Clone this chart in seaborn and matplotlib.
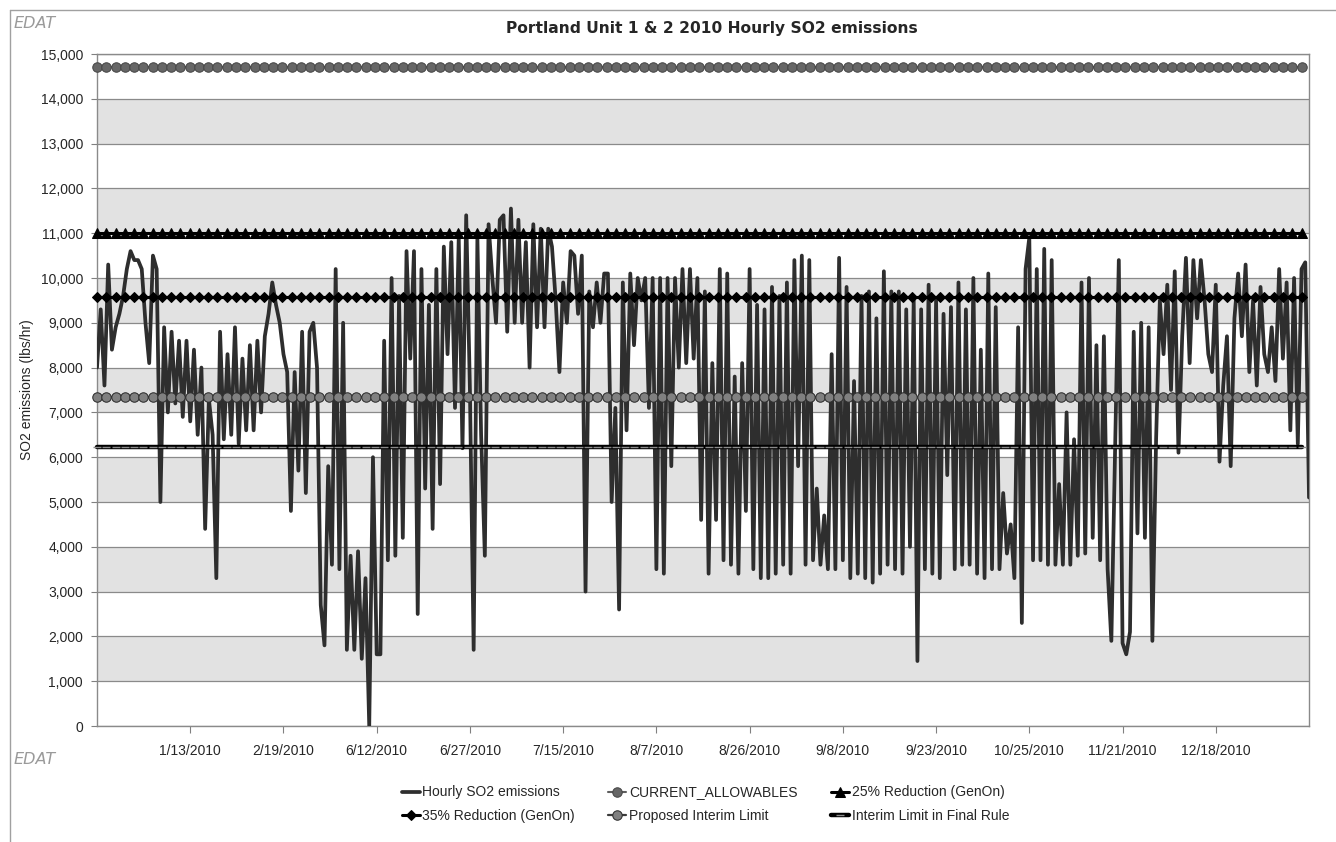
import matplotlib
matplotlib.use("Agg")
import matplotlib.pyplot as plt
import numpy as np
import pandas as pd
import seaborn as sns
from matplotlib.lines import Line2D
from matplotlib.ticker import FuncFormatter

# hourly SO2 (thousand lbs/hr), one value per category step
hourly_so2_k = [
    8.0, 9.3, 7.6, 10.3, 8.4, 8.9, 9.2, 9.6, 10.2, 10.6,
    10.4, 10.4, 10.2, 9.0, 8.1, 10.5, 10.2, 5.0, 8.9, 7.0,
    8.8, 7.2, 8.6, 6.9, 8.6, 6.8, 8.4, 6.5, 8.0, 4.4,
    7.3, 6.5, 3.3, 8.8, 6.4, 8.3, 6.5, 8.9, 6.3, 8.2,
    6.6, 8.5, 6.6, 8.6, 7.0, 8.7, 9.2, 9.9, 9.4, 9.0,
    8.3, 7.9, 4.8, 7.9, 5.7, 8.8, 5.2, 8.8, 9.0, 8.0,
    2.7, 1.8, 5.8, 3.6, 10.2, 3.5, 9.0, 1.7, 3.8, 1.7,
    3.9, 1.5, 3.3, 0.0, 6.0, 1.6, 1.6, 8.6, 3.7, 10.0,
    3.8, 9.6, 4.2, 10.6, 8.2, 10.6, 2.5, 10.2, 5.3, 9.4,
    4.4, 10.2, 5.4, 10.7, 8.3, 10.8, 7.1, 10.9, 6.2, 11.4,
    7.5, 1.7, 10.9, 6.5, 3.8, 11.2, 10.0, 9.0, 11.3, 11.4,
    8.8, 11.55, 9.0, 11.3, 9.0, 10.8, 8.0, 11.2, 8.9, 11.1,
    8.9, 11.1, 10.7, 9.5, 7.9, 9.9, 9.0, 10.6, 10.5, 9.2,
    10.5, 3.0, 9.7, 8.9, 9.9, 9.0, 10.1, 10.1, 5.0, 7.1,
    2.6, 9.9, 6.6, 10.1, 8.5, 10.0, 9.5, 10.0, 7.1, 10.0,
    3.5, 10.0, 3.4, 10.0, 5.8, 10.0, 8.0, 10.2, 8.1, 10.2,
    8.2, 10.0, 4.6, 9.7, 3.4, 8.1, 4.6, 10.2, 3.7, 10.1,
    3.6, 7.8, 3.4, 8.1, 4.8, 10.2, 3.5, 9.4, 3.3, 9.3,
    3.3, 9.8, 3.4, 9.6, 3.6, 9.9, 3.4, 10.4, 5.8, 10.5,
    3.6, 10.4, 3.7, 5.3, 3.6, 4.7, 3.5, 8.3, 3.5, 10.45,
    3.7, 9.8, 3.3, 7.7, 3.4, 9.6, 3.3, 9.7, 3.2, 9.1,
    3.4, 10.15, 3.6, 9.7, 3.5, 9.7, 3.4, 9.3, 4.0, 9.5,
    1.45, 9.3, 3.5, 9.85, 3.4, 9.5, 3.3, 9.2, 5.6, 9.35,
    3.5, 9.9, 3.6, 9.3, 3.6, 10.0, 3.4, 8.4, 3.3, 10.1,
    3.5, 9.35, 3.5, 5.2, 3.85, 4.5, 3.3, 8.9, 2.3, 10.2,
    10.9, 3.7, 10.2, 3.7, 10.65, 3.6, 10.4, 3.6, 5.4, 3.6,
    7.0, 3.6, 6.4, 3.8, 9.9, 3.85, 10.0, 4.2, 8.5, 3.7,
    8.7, 3.5, 1.9, 6.1, 10.4, 1.85, 1.6, 2.1, 8.8, 4.3,
    9.0, 4.2, 8.9, 1.9, 6.4, 9.5, 8.3, 9.85, 7.5, 10.15,
    6.1, 8.7, 10.45, 8.1, 10.4, 9.1, 10.4, 9.5, 8.3, 7.9,
    9.85, 5.9, 7.6, 8.7, 5.8, 9.1, 10.1, 8.7, 10.3, 7.9,
    9.5, 7.6, 9.8, 8.3, 7.9, 8.9, 7.7, 10.2, 8.2, 9.9,
    6.6, 10.0, 6.3, 10.2, 10.35, 5.1,
]

tick_labels = ["1/13/2010", "2/19/2010", "6/12/2010", "6/27/2010", "7/15/2010",
               "8/7/2010", "8/26/2010", "9/8/2010", "9/23/2010", "10/25/2010",
               "11/21/2010", "12/18/2010"]
tick_every = 25

current_allowables = 14720
reduction_25 = 11000
reduction_35 = 9570
proposed_interim = 7350
final_rule_interim = 6230

hourly = np.array(hourly_so2_k) * 1000
n = len(hourly)
df = pd.DataFrame({"idx": np.arange(n), "so2": hourly})

sns.set_style("white")
plt.rcParams["font.family"] = ["Liberation Sans", "DejaVu Sans"]

fig = plt.figure(figsize=(13.36, 8.42), dpi=100)
ax = fig.add_axes([97 / 1336, 1 - 726 / 842, 1212 / 1336, 672 / 842])

# alternating grey bands like the excel plot area
for lo in range(1000, 15000, 2000):
    ax.axhspan(lo, lo + 1000, color="#e2e2e2", zorder=0, lw=0)

sns.lineplot(data=df, x="idx", y="so2", ax=ax, color="#2e2e2e", lw=2.7,
             label="Hourly SO2 emissions", zorder=3)

lim_x = np.linspace(0, n - 3, 131)
limits = [
    ("CURRENT_ALLOWABLES", current_allowables,
     dict(color="#5e5e5e", marker="o", ms=6.8, mfc="#666666", mec="#474747", lw=1.5)),
    ("25% Reduction (GenOn)", reduction_25,
     dict(color="black", marker="^", ms=6.5, mfc="black", mec="black", lw=2.2)),
    ("35% Reduction (GenOn)", reduction_35,
     dict(color="black", marker="D", ms=5.2, mfc="black", mec="black", lw=2.2)),
    ("Proposed Interim Limit", proposed_interim,
     dict(color="#3a3a3a", marker="o", ms=6.8, mfc="#808080", mec="#2e2e2e", lw=1.6)),
    ("Interim Limit in Final Rule", final_rule_interim,
     dict(color="black", marker="_", ms=6, mec="#8a8a8a", mew=1, lw=3.2)),
]
for name, val, style in limits:
    sns.lineplot(x=lim_x, y=np.full(lim_x.size, val), ax=ax, label=name,
                 zorder=4, clip_on=False, **style)

ax.set_xlim(0, n - 1)
ax.set_ylim(0, 15000)
ax.set_yticks(range(0, 15001, 1000))
ax.yaxis.set_major_formatter(FuncFormatter(lambda v, p: f"{int(v):,}"))
ax.set_xticks([tick_every * (i + 1) for i in range(len(tick_labels))])
ax.set_xticklabels(tick_labels)
ax.yaxis.grid(True, color="#8a8a8a", lw=0.9)
ax.xaxis.grid(False)
ax.set_axisbelow(True)
ax.tick_params(axis="y", length=4, color="#808080", labelsize=10, pad=6, left=True)
ax.tick_params(axis="x", length=5, color="#808080", labelsize=10, pad=8, bottom=True)
for s in ax.spines.values():
    s.set_color("#8a8a8a")
    s.set_linewidth(1)
ax.set_xlabel("")
ax.set_ylabel("SO2 emissions (lbs/hr)", fontsize=10)
ax.yaxis.set_label_coords(-0.052, 0.5)

handles, labels = ax.get_legend_handles_labels()
order = [0, 3, 1, 4, 2, 5]
ax.legend([handles[i] for i in order], [labels[i] for i in order],
          ncol=3, frameon=False, fontsize=10, loc="upper center",
          bbox_to_anchor=(0.528, 0.082), bbox_transform=fig.transFigure,
          handlelength=1.3, handletextpad=0.2, columnspacing=2.4, labelspacing=0.7)

fig.text(0.533, 1 - 28 / 842, "Portland Unit 1 & 2 2010 Hourly SO2 emissions",
         ha="center", va="center", fontsize=11.2, fontweight="bold",
         family=["DejaVu Sans"])
fig.text(14 / 1336, 1 - 23 / 842, "EDAT", style="italic", color="#9a9a9a",
         fontsize=11.5, va="center", family=["DejaVu Sans"])
fig.text(14 / 1336, 1 - 760 / 842, "EDAT", style="italic", color="#9a9a9a",
         fontsize=11.5, va="center", family=["DejaVu Sans"])

# outer chart-area border (top and left edges visible)
fig.add_artist(Line2D([10 / 1336, 1], [1 - 10 / 842, 1 - 10 / 842],
                      transform=fig.transFigure, color="#a0a0a0", lw=1))
fig.add_artist(Line2D([10 / 1336, 10 / 1336], [0, 1 - 10 / 842],
                      transform=fig.transFigure, color="#a0a0a0", lw=1))

fig.savefig("out.png", dpi=100)
plt.close(fig)
